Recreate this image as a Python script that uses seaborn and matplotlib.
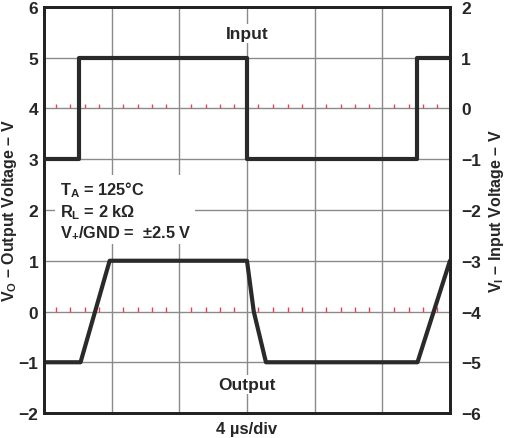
import matplotlib
matplotlib.use("Agg")
import matplotlib.pyplot as plt
import pandas as pd
import seaborn as sns

# time in divisions (4 us/div)
in_time = [0, 0.52, 0.52, 3.0, 3.0, 5.52, 5.52, 6.0]
in_volt = [-1, -1, 1, 1, -1, -1, 1, 1]
out_time = [0, 0.54, 0.97, 3.0, 3.1, 3.28, 5.52, 6.0]
out_volt = [-1, -1, 1, 1, 0, -1, -1, 1]
left_ticks = [-2, -1, 0, 1, 2, 3, 4, 5, 6]
right_ticks = [-6, -5, -4, -3, -2, -1, 0, 1, 2]
minor_frac = [0.17, 0.39, 0.6, 0.81]

sns.set_style("white")
plt.rcParams["font.family"] = ["Liberation Sans", "DejaVu Sans"]
plt.rcParams["font.weight"] = "bold"
plt.rcParams["mathtext.fontset"] = "custom"
plt.rcParams["mathtext.rm"] = "Liberation Sans:bold"
plt.rcParams["mathtext.it"] = "Liberation Sans:bold"
plt.rcParams["mathtext.bf"] = "Liberation Sans:bold"

fig = plt.figure(figsize=(5.1, 4.39), dpi=100)
ax = fig.add_axes([0.0863, 0.0569, 0.796, 0.925])
ax.set_xlim(0, 6)
ax.set_ylim(-2, 6)
ax.set_xticks(range(7))
ax.set_yticks(left_ticks)
ax.grid(True, color="#8a8a8a", lw=1)
ax.set_xticklabels([])
ax.set_yticklabels([str(t).replace("-", "\u2212") for t in left_ticks], fontsize=12.5, fontweight="bold")
ax.tick_params(length=0, pad=4)

# red scope ticks on the two centre lines
xs = [d + f for d in range(6) for f in minor_frac]
for yl in (4, 0):
    ax.vlines(xs, yl, yl + 0.08, color="#e8434f", lw=1, zorder=3)

ax2 = ax.twinx()
ax2.set_ylim(-6, 2)
ax2.set_yticks(right_ticks)
ax2.set_yticklabels([str(t).replace("-", "\u2212") for t in right_ticks], fontsize=12.5, fontweight="bold")
ax2.tick_params(length=0, pad=8)
ax2.grid(False)

df_out = pd.DataFrame({"t": out_time, "v": out_volt})
df_in = pd.DataFrame({"t": in_time, "v": in_volt})
sns.lineplot(data=df_out, x="t", y="v", ax=ax, sort=False, estimator=None,
             color="#2a2a2a", lw=3, zorder=4)
sns.lineplot(data=df_in, x="t", y="v", ax=ax2, sort=False, estimator=None,
             color="#2a2a2a", lw=3, zorder=4)
ax.set_xlabel("")
ax2.set_xlabel("")
ax.set_ylabel("")
ax2.set_ylabel("")

for a in (ax, ax2):
    for s in a.spines.values():
        s.set_color("#222222")
        s.set_linewidth(2)

fig.text(10 / 510, 1 - 211 / 439, "V$_{O}$ \u2013 Output Voltage \u2013 V", rotation=90,
         ha="center", va="center", fontsize=11.5, fontweight="bold")
fig.text(497 / 510, 1 - 211 / 439, "V$_{I}$ \u2013 Input Voltage \u2013 V", rotation=90,
         ha="center", va="center", fontsize=11.5, fontweight="bold")

box = dict(facecolor="white", edgecolor="none", pad=1.5)
ax.text(3.0, 5.47, "Input", ha="center", va="center", fontsize=12.5, fontweight="bold", bbox=box, zorder=5)
ax.text(3.0, -1.43, "Output", ha="center", va="center", fontsize=12.5, fontweight="bold", bbox=box, zorder=5)
ax.text(0.23, 2.0,
        "T$_{A}$ = 125\u00b0C\nR$_{L}$ = 2 k\u03a9\nV$_{+}$/GND =  \u00b12.5 V",
        ha="left", va="center", fontsize=11.8, fontweight="bold", linespacing=1.2,
        bbox=dict(facecolor="white", edgecolor="none", pad=3), zorder=5)
fig.text(247 / 510, 1 - 430 / 439, "4 \u00b5s/div", ha="center", va="center",
         fontsize=12, fontweight="bold")

fig.savefig("out.png", dpi=100)
